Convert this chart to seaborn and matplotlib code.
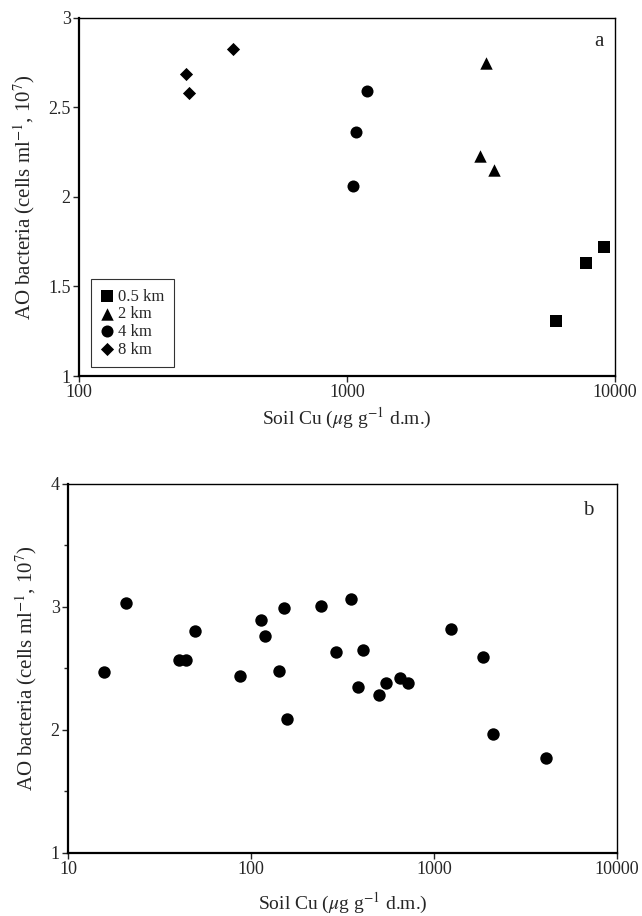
import numpy as np
import matplotlib
matplotlib.use("Agg")
import matplotlib.pyplot as plt
import pandas as pd
import seaborn as sns

# panel a: soil Cu vs AO bacteria by distance from source
dist_a = ['0.5 km'] * 3 + ['2 km'] * 3 + ['4 km'] * 3 + ['8 km'] * 3
cu_a = [6030, 7800, 9060, 3290, 3130, 3530, 1184, 1084, 1057, 251, 257, 376]
ao_a = [1.31, 1.63, 1.72, 2.75, 2.23, 2.15, 2.59, 2.36, 2.06, 2.685, 2.58, 2.825]

# panel b: all sites
cu_b = [15.8, 20.8, 40.4, 43.9, 49.7, 87.4, 114, 119, 142, 151, 157, 242,
        292, 353, 386, 411, 502, 548, 650, 721, 1242, 1862, 2096, 4105]
ao_b = [2.47, 3.03, 2.57, 2.57, 2.80, 2.44, 2.89, 2.76, 2.48, 2.99, 2.09, 3.01,
        2.63, 3.06, 2.35, 2.65, 2.28, 2.38, 2.42, 2.38, 2.82, 2.59, 1.97, 1.77]

df_a = pd.DataFrame({'cu': cu_a, 'ao': ao_a, 'dist': dist_a})
df_b = pd.DataFrame({'cu': cu_b, 'ao': ao_b})

sns.set_style('ticks')
plt.rcParams['font.family'] = ['Liberation Serif', 'DejaVu Serif']
plt.rcParams['mathtext.fontset'] = 'stix'

fig = plt.figure(figsize=(6.42, 9.16), dpi=100)
ax1 = fig.add_axes([0.123, 0.5895, 0.835, 0.391])
ax2 = fig.add_axes([0.106, 0.0688, 0.855, 0.403])

markers = {'0.5 km': 's', '2 km': '^', '4 km': 'o', '8 km': 'D'}
sizes = {'0.5 km': 75, '2 km': 80, '4 km': 75, '8 km': 45}
for d in ['0.5 km', '2 km', '4 km', '8 km']:
    sub = df_a[df_a['dist'] == d]
    sns.scatterplot(data=sub, x='cu', y='ao', marker=markers[d], s=sizes[d],
                    color='black', edgecolor='black', linewidth=0, label=d, ax=ax1)

sns.scatterplot(data=df_b, x='cu', y='ao', marker='o', s=80, color='black',
                edgecolor='black', linewidth=0, legend=False, ax=ax2)

xlabel = r'Soil Cu ($\mu$g g$^{-1}$ d.m.)'
ylabel = r'AO bacteria (cells ml$^{-1}$, 10$^{7}$)'

for ax, lo, yt, ylim in [(ax1, 100, [1, 1.5, 2, 2.5, 3], (1, 3)),
                         (ax2, 10, [1, 2, 3, 4], (1, 4))]:
    ax.set_xscale('log')
    ax.set_xlim(lo, 10000)
    ax.set_ylim(*ylim)
    xt = [t for t in [10, 100, 1000, 10000] if t >= lo]
    ax.set_xticks(xt)
    ax.set_xticklabels([str(t) for t in xt])
    ax.xaxis.set_minor_locator(matplotlib.ticker.NullLocator())
    ax.set_yticks(yt)
    ax.set_yticklabels([('%g' % t) for t in yt])
    ax.tick_params(axis='both', labelsize=13, length=4, width=1, pad=2, direction='out')
    ax.set_ylabel(ylabel, fontsize=15, labelpad=8)
    for sp in ax.spines.values():
        sp.set_color('black')
        sp.set_linewidth(1.0)
    ax.spines['left'].set_linewidth(1.6)
    ax.spines['bottom'].set_linewidth(1.6)

ax2.set_yticks([1.5, 2.5, 3.5], minor=True)
ax2.tick_params(axis='y', which='minor', length=3, width=1)
ax1.set_xlabel(xlabel, fontsize=14, labelpad=3)
ax2.set_xlabel(xlabel, fontsize=14, labelpad=9)

ax1.text(0.97, 0.935, 'a', transform=ax1.transAxes, fontsize=15, ha='center', va='center')
ax2.text(0.947, 0.927, 'b', transform=ax2.transAxes, fontsize=15, ha='center', va='center')

leg = ax1.legend(loc='lower left', bbox_to_anchor=(0.022, 0.026), frameon=True,
                 fancybox=False, fontsize=12, handletextpad=0.3, handlelength=0.8,
                 labelspacing=0.1, borderpad=0.55, borderaxespad=0)
leg.get_frame().set_edgecolor('black')
leg.get_frame().set_linewidth(0.8)

fig.savefig('out.png', dpi=100)
